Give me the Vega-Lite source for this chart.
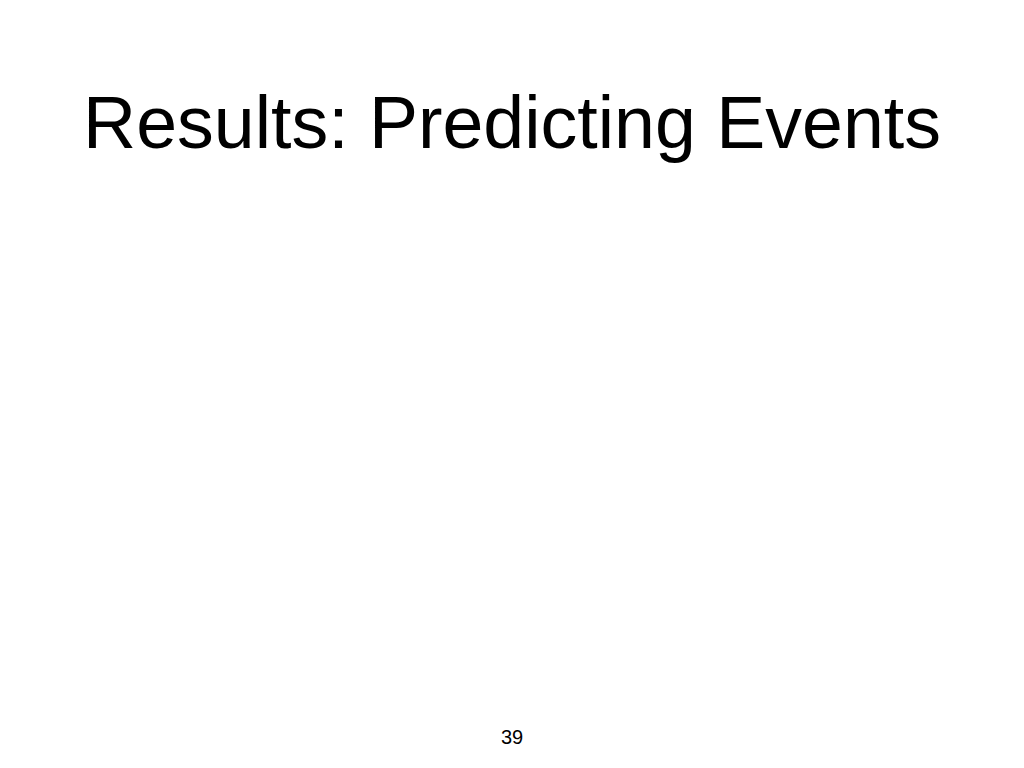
{
  "$schema": "https://vega.github.io/schema/vega-lite/v6.json",
  "width": 1024,
  "height": 768,
  "autosize": {"type": "fit", "contains": "padding"},
  "padding": {"top": 88, "bottom": 20, "left": 0, "right": 0},
  "background": "white",
  "config": {"view": {"stroke": null}},
  "title": {
    "text": "Results: Predicting Events",
    "font": "Liberation Sans",
    "fontSize": 73.5,
    "fontWeight": "normal",
    "color": "black",
    "anchor": "middle",
    "baseline": "top",
    "offset": 0
  },
  "data": {"values": [{"slide": "39"}]},
  "mark": {
    "type": "text",
    "font": "Liberation Sans",
    "fontSize": 20,
    "color": "black",
    "align": "center",
    "baseline": "alphabetic",
    "y": {"expr": "height"}
  },
  "encoding": {
    "text": {"field": "slide", "type": "nominal"}
  }
}
